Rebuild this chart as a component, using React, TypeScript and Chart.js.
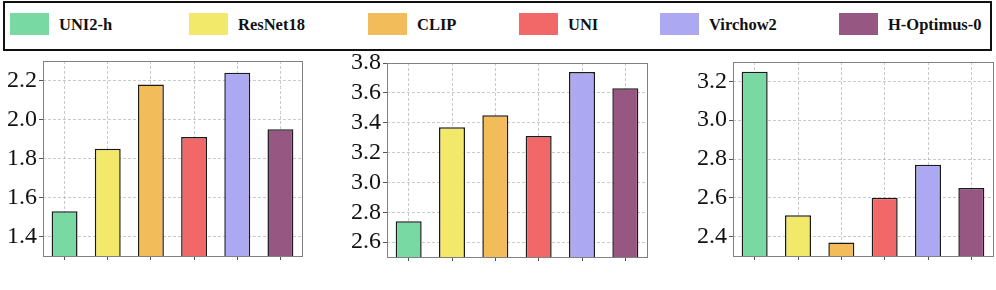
import React, { useEffect, useRef } from "react";
import { Chart, registerables } from "chart.js";

Chart.register(...registerables);

const models = ["UNI2-h", "ResNet18", "CLIP", "UNI", "Virchow2", "H-Optimus-0"];
const modelColors = ["#79D9A2", "#F2E96B", "#F2BC5A", "#F26868", "#ACA9F2", "#975783"];

const panel1Values = [1.53, 1.85, 2.18, 1.91, 2.24, 1.95];
const panel2Values = [2.74, 3.37, 3.45, 3.31, 3.74, 3.63];
const panel3Values = [3.25, 2.51, 2.37, 2.6, 2.77, 2.65];

const panel1Ticks = [1.4, 1.6, 1.8, 2.0, 2.2];
const panel2Ticks = [2.6, 2.8, 3.0, 3.2, 3.4, 3.6, 3.8];
const panel3Ticks = [2.4, 2.6, 2.8, 3.0, 3.2];

const panel1Range = [1.3, 2.3];
const panel2Range = [2.5, 3.8];
const panel3Range = [2.3, 3.3];

const legendLefts = [10, 189, 368, 519, 660, 839];

const FONT = '"Liberation Serif", "Times New Roman", serif';
const GRID = "rgba(150,150,150,0.5)";

Chart.defaults.font.family = FONT;

const framePlugin = {
  id: "frame",
  afterDraw(chart: any) {
    const { ctx, chartArea } = chart;
    ctx.save();
    ctx.strokeStyle = "#808080";
    ctx.lineWidth = 1;
    ctx.setLineDash([]);
    ctx.strokeRect(
      Math.round(chartArea.left) + 0.5,
      Math.round(chartArea.top) + 0.5,
      Math.round(chartArea.right - chartArea.left),
      Math.round(chartArea.bottom - chartArea.top)
    );
    ctx.restore();
  },
};

type PanelProps = {
  values: number[];
  ticks: number[];
  range: number[];
  left: number;
  width: number;
  yWidth: number;
  padTop: number;
  padRight: number;
  xHeight: number;
};

function Panel({ values, ticks, range, left, width, yWidth, padTop, padRight, xHeight }: PanelProps) {
  const ref = useRef<HTMLCanvasElement>(null);
  useEffect(() => {
    let chart: any = null;
    let cancelled = false;
    const make = () => {
      if (cancelled || !ref.current) return;
      chart = new Chart(ref.current, {
        type: "bar",
        data: {
          labels: models,
          datasets: [
            {
              data: values,
              backgroundColor: modelColors,
              borderColor: "#1a1a1a",
              borderWidth: 1.5,
              borderSkipped: "start",
              barPercentage: 0.6,
              categoryPercentage: 1,
            },
          ],
        },
        options: {
          responsive: false,
          animation: false,
          layout: { padding: { top: padTop, right: padRight, left: 0, bottom: 0 } },
          plugins: { legend: { display: false }, tooltip: { enabled: false } },
          scales: {
            x: {
              offset: true,
              z: 1,
              border: { display: false, dash: [3, 2] },
              grid: {
                offset: false,
                color: GRID,
                lineWidth: 1,
                drawTicks: true,
                tickLength: 4,
                tickColor: "#555",
                tickBorderDash: [],
              },
              ticks: { callback: () => "", padding: 0 },
              afterFit: (s: any) => {
                s.height = xHeight;
              },
            },
            y: {
              min: range[0],
              max: range[1],
              z: 1,
              border: { display: false, dash: [3, 2] },
              grid: {
                color: GRID,
                lineWidth: 1,
                drawTicks: true,
                tickLength: 4,
                tickColor: "#555",
                tickBorderDash: [],
              },
              afterBuildTicks: (s: any) => {
                s.ticks = ticks.map((v) => ({ value: v }));
              },
              ticks: {
                color: "#111",
                font: { family: FONT, size: 24, style: "normal", weight: "normal" },
                padding: 2,
                callback: (v: any) => Number(v).toFixed(1),
              },
              afterFit: (s: any) => {
                s.width = yWidth;
              },
            },
          },
        },
        plugins: [framePlugin],
      });
    };
    const fonts: any = (document as any).fonts;
    if (fonts && fonts.load) {
      Promise.all([fonts.load('24px "Liberation Serif"'), fonts.load('bold 16px "Liberation Serif"')])
        .catch(() => null)
        .then(make);
    } else {
      make();
    }
    return () => {
      cancelled = true;
      if (chart) chart.destroy();
    };
  }, []);
  return (
    <canvas
      ref={ref}
      width={width}
      height={250}
      style={{ position: "absolute", left, top: 40, width, height: 250 }}
    />
  );
}

export default function App() {
  return (
    <div
      style={{
        position: "fixed",
        left: 0,
        top: 0,
        width: 996,
        height: 290,
        background: "#fff",
        overflow: "hidden",
        fontFamily: FONT,
      }}
    >
      <div
        style={{
          position: "absolute",
          left: 3,
          top: 1,
          width: 989,
          height: 50,
          border: "2px solid #111",
          boxSizing: "border-box",
        }}
      />
      {models.map((m, i) => (
        <React.Fragment key={m}>
          <div
            style={{
              position: "absolute",
              left: legendLefts[i],
              top: 13,
              width: 39,
              height: 22,
              background: modelColors[i],
            }}
          />
          <div
            style={{
              position: "absolute",
              left: legendLefts[i] + 49,
              top: 14,
              height: 22,
              lineHeight: "22px",
              fontSize: 16.5,
              fontWeight: "bold",
              color: "#111",
              whiteSpace: "nowrap",
            }}
          >
            {m}
          </div>
        </React.Fragment>
      ))}
      <Panel values={panel1Values} ticks={panel1Ticks} range={panel1Range} left={0} width={310} yWidth={43} padTop={21} padRight={8} xHeight={34} />
      <Panel values={panel2Values} ticks={panel2Ticks} range={panel2Range} left={340} width={315} yWidth={47} padTop={23} padRight={8} xHeight={33} />
      <Panel values={panel3Values} ticks={panel3Ticks} range={panel3Range} left={680} width={316} yWidth={53} padTop={22} padRight={3} xHeight={34} />
    </div>
  );
}
